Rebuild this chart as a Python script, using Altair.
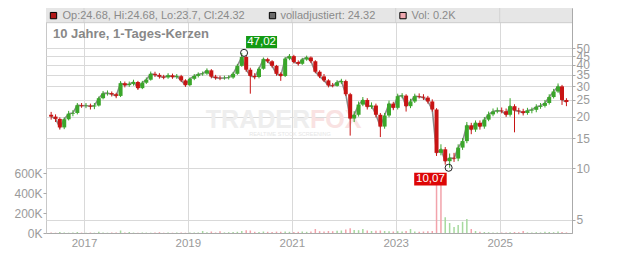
import altair as alt
import pandas as pd

FONT = "Liberation Sans"
RED = "#c81414"
GREEN = "#3aa62a"
VOL_RED = "#f2a3ab"
VOL_GREEN = "#a6d99e"

# monthly candles, May 2016 .. Apr 2026
first_open = 20.5
close = [
    20.0, 19.4, 17.3, 19.3, 20.8, 21.0, 23.3, 23.1, 23.2, 22.9,
    23.2, 25.6, 27.3, 27.4, 27.0, 26.4, 31.3, 30.5, 31.0, 31.8,
    29.3, 31.5, 32.8, 35.5, 35.0, 34.2, 33.8, 34.8, 34.0, 34.4,
    32.5, 30.5, 33.2, 34.5, 35.3, 35.6, 37.2, 34.2, 33.6, 33.5,
    33.6, 33.8, 35.5, 39.5, 44.5, 37.5, 34.5, 34.0, 38.0, 43.2,
    42.0, 39.5, 35.5, 34.5, 43.5, 45.0, 41.6, 40.6, 43.0, 44.2,
    42.0, 36.5, 34.3, 32.5, 30.4, 30.2, 31.7, 32.2, 27.0, 19.5,
    20.5, 23.5, 25.0, 22.8, 23.2, 20.5, 17.5, 20.3, 23.8, 22.5,
    26.3, 26.5, 23.0, 24.5, 26.3, 26.1, 25.8, 24.5, 22.0, 12.3,
    12.9, 11.0, 11.5, 11.4, 13.2, 14.4, 17.8, 16.8, 18.4, 17.5,
    19.2, 20.6, 21.4, 21.7, 21.5, 20.5, 23.0, 21.7, 21.5, 21.0,
    21.7, 21.9, 22.8, 23.1, 24.0, 26.0, 28.0, 30.0, 25.0, 24.32,
]
high = [
    21.3, 20.6, 19.8, 19.8, 21.6, 21.8, 24.0, 24.0, 24.0, 23.8,
    24.0, 26.2, 28.2, 28.4, 28.0, 27.5, 32.2, 32.0, 32.0, 32.8,
    32.3, 32.3, 33.8, 36.6, 36.5, 35.8, 35.0, 35.8, 35.6, 35.4,
    35.0, 33.0, 33.8, 35.4, 36.2, 36.6, 38.2, 37.8, 35.0, 34.6,
    34.6, 34.8, 36.4, 40.5, 47.02, 45.5, 38.5, 35.8, 39.0, 44.2,
    44.0, 42.6, 40.0, 36.2, 44.5, 46.3, 45.8, 42.5, 44.0, 45.3,
    44.8, 42.6, 37.2, 35.4, 33.0, 31.4, 32.6, 33.2, 32.8, 27.5,
    21.5, 24.5, 26.0, 25.6, 24.2, 23.8, 21.0, 21.0, 24.8, 24.4,
    27.2, 27.4, 27.0, 25.4, 27.2, 27.3, 27.0, 26.4, 25.2, 22.4,
    13.8, 13.3, 12.2, 12.3, 13.8, 15.0, 18.6, 18.4, 19.0, 19.0,
    19.9, 21.4, 22.3, 22.6, 22.6, 22.3, 25.6, 23.6, 22.5, 22.2,
    22.5, 22.6, 23.6, 24.0, 25.0, 27.0, 29.0, 31.2, 30.6, 25.6,
]
low = [
    19.2, 18.6, 16.8, 16.9, 19.0, 20.1, 20.6, 22.5, 22.4, 22.0,
    22.1, 22.9, 25.2, 26.5, 26.2, 25.6, 26.0, 29.6, 29.8, 30.3,
    28.6, 28.9, 31.0, 32.4, 34.0, 33.3, 33.0, 33.2, 33.2, 33.2,
    31.8, 29.8, 30.0, 32.6, 33.8, 34.6, 35.0, 33.4, 32.8, 32.6,
    32.8, 32.9, 33.2, 35.0, 39.0, 36.5, 27.2, 33.0, 33.4, 37.5,
    41.0, 38.6, 34.6, 32.3, 34.0, 42.6, 40.8, 39.6, 40.0, 42.3,
    41.0, 35.8, 33.5, 31.8, 29.6, 29.6, 29.9, 31.0, 26.4, 15.5,
    18.6, 20.0, 23.0, 22.0, 22.2, 19.8, 15.2, 17.0, 19.8, 21.8,
    22.0, 25.6, 21.4, 22.4, 24.0, 25.5, 25.0, 23.8, 21.4, 11.8,
    11.9, 10.5, 10.07, 10.9, 11.0, 12.8, 14.0, 15.8, 16.3, 16.8,
    17.0, 18.8, 20.1, 20.9, 20.9, 19.9, 20.0, 16.2, 20.6, 20.3,
    20.5, 20.9, 21.2, 22.2, 22.6, 23.5, 25.5, 27.5, 23.4, 23.0,
]
vol_k = [
    5, 3, 10, 4, 3, 5, 10, 4, 3, 5,
    3, 12, 4, 3, 5, 6, 25, 5, 10, 4,
    3, 5, 4, 3, 5, 8, 3, 4, 3, 5,
    4, 3, 4, 5, 6, 20, 8, 15, 5, 18,
    6, 8, 10, 12, 20, 28, 25, 12, 10, 15,
    12, 10, 14, 12, 15, 12, 10, 12, 14, 12,
    15, 40, 18, 15, 20, 18, 22, 25, 35, 47,
    30, 28, 40, 25, 20, 22, 25, 20, 18, 15,
    18, 15, 20, 40, 15, 12, 15, 18, 20, 560,
    520, 157, 100, 60, 80, 112, 140, 40, 20, 12,
    10, 8, 6, 5, 5, 6, 8, 10, 8, 20,
    6, 5, 8, 6, 12, 10, 8, 15, 10, 6,
]
# volume colour per month: 1 = green (up), 0 = red (down)
vol_up = [
    0, 0, 1, 1, 1, 1, 1, 0, 1, 0,
    1, 1, 1, 1, 0, 0, 1, 0, 1, 1,
    0, 1, 1, 1, 0, 0, 0, 1, 0, 1,
    0, 0, 1, 1, 1, 1, 1, 0, 0, 0,
    1, 1, 1, 1, 1, 0, 0, 0, 1, 1,
    0, 0, 0, 0, 1, 1, 0, 0, 1, 1,
    0, 0, 0, 0, 0, 0, 1, 1, 0, 0,
    1, 1, 1, 0, 1, 0, 0, 1, 1, 0,
    1, 1, 0, 1, 1, 0, 0, 0, 0, 0,
    0, 1, 1, 1, 1, 1, 1, 0, 1, 0,
    1, 1, 1, 1, 0, 0, 1, 0, 0, 0,
    1, 1, 1, 1, 1, 1, 1, 1, 0, 0,
]
open_ = [first_open] + close[:-1]

label_years = [2017, 2019, 2021, 2023, 2025]
price_ticks = [5, 10, 15, 20, 25, 30, 35, 40, 45, 50]
vol_ticks = [0, 200000, 400000, 600000]

ann_dates = ["2020-01-31", "2024-01-08"]
ann_prices = [47.02, 10.07]
ann_labels = ["47,02", "10,07"]

header_ohlc = "Op:24.68, Hi:24.68, Lo:23.7, Cl:24.32"
header_adj = "volladjustiert: 24.32"
header_vol = "Vol: 0.2K"
title_text = "10 Jahre, 1-Tages-Kerzen"

dates = pd.date_range("2016-05-01", periods=len(close), freq="MS") + pd.Timedelta(days=14)
df = pd.DataFrame({
    "date": dates, "open": open_, "high": high, "low": low,
    "close": close, "vol": [v * 1000 for v in vol_k], "vup": vol_up,
})
years_df = pd.DataFrame({"date": [pd.Timestamp(year=y, month=1, day=1) for y in label_years]})
ann = pd.DataFrame({"date": ann_dates, "price": ann_prices, "label": ann_labels})
one = pd.DataFrame({"a": [0]})

W, H = 526, 225
BAND_H = 14.7


def X(field="date"):
    return alt.X(
        f"{field}:T",
        scale=alt.Scale(domain=[alt.DateTime(year=2016, month=5, date=14),
                                alt.DateTime(year=2026, month=4, date=19)]),
        axis=alt.Axis(values=[alt.DateTime(year=y, month=1, date=1) for y in label_years],
                      format="%Y", title=None, grid=True, gridColor="#d9d9d9",
                      ticks=False, tickSize=0, labelPadding=4, labelFontSize=11.5,
                      labelColor="#9a9a9a", labelFont=FONT, domainColor="#aaaaaa",
                      labelFlush=False),
    )


def YP(field):
    return alt.Y(
        f"{field}:Q",
        scale=alt.Scale(type="log", domain=[4.2, 85.8], nice=False),
        axis=alt.Axis(orient="right", values=price_ticks, title=None, grid=True,
                      gridColor="#d9d9d9", tickSize=3, tickColor="#aaaaaa",
                      labelPadding=1, labelFontSize=12, labelColor="#9a9a9a",
                      labelFont=FONT, domainColor="#aaaaaa", labelFlush=False,
                      labelOverlap=False),
    )


updown = "datum.close >= datum.open"

band = alt.Chart(one).mark_rect(color="#e6e6e6").encode(
    x=alt.value(0), x2=alt.value(W), y=alt.value(0), y2=alt.value(BAND_H))
band_grid = alt.Chart(years_df).mark_rule(color="#d4d4d4").encode(
    x=X("date"), y=alt.value(0), y2=alt.value(BAND_H))
band_line = alt.Chart(one).mark_rule(color="#cccccc").encode(
    x=alt.value(0), x2=alt.value(W), y=alt.value(BAND_H))

wm1 = alt.Chart(one).mark_text(text="TRADER", font=FONT, fontSize=25, fontWeight="bold",
                               color="#eeeeee", align="right", baseline="middle").encode(
    x=alt.value(264), y=alt.value(112))
wm2 = alt.Chart(one).mark_text(text="FOX", font=FONT, fontSize=25, fontWeight="bold",
                               color="#f9e2e2", align="left", baseline="middle").encode(
    x=alt.value(264), y=alt.value(112))
wm3 = alt.Chart(one).mark_text(text="REALTIME STOCK SCREENING", font=FONT, fontSize=5.5,
                               color="#e6e6e6", align="center", baseline="middle").encode(
    x=alt.value(244), y=alt.value(126))

vol = alt.Chart(df).mark_bar(width=1.5, clip=True).encode(
    x=X("date"),
    y=alt.Y("vol:Q", scale=alt.Scale(domain=[0, 2250000], nice=False),
            axis=alt.Axis(orient="left", values=vol_ticks, title=None, grid=False,
                          labelExpr="(datum.value / 1000) + 'K'", tickSize=3,
                          tickColor="#aaaaaa", labelPadding=1, labelFontSize=12,
                          labelColor="#9a9a9a", labelFont=FONT, domain=False)),
    color=alt.condition("datum.vup == 1", alt.value(VOL_GREEN), alt.value(VOL_RED)),
)

adj_line = alt.Chart(df).mark_line(color="#8c8c8c", strokeWidth=1.6, clip=True).encode(
    x=X("date"), y=YP("close"))
wicks = alt.Chart(df).mark_rule(strokeWidth=1, clip=True).encode(
    x=X("date"), y=YP("low"), y2="high:Q",
    color=alt.condition(updown, alt.value(GREEN), alt.value(RED)))
bodies = alt.Chart(df).mark_bar(width=4.0, clip=True).encode(
    x=X("date"), y=YP("open"), y2="close:Q",
    color=alt.condition(updown, alt.value(GREEN), alt.value(RED)))

BOX = "M-1,-0.39L1,-0.39L1,0.39L-1,0.39Z"
ann_max = alt.Chart(ann).transform_filter("datum.price > 20")
ann_min = alt.Chart(ann).transform_filter("datum.price < 20")

max_box = ann_max.mark_point(shape=BOX, size=31 ** 2, filled=True, color="#139a13",
                             opacity=1, xOffset=17.5, yOffset=-10.8).encode(
    x=X("date"), y=YP("price"))
max_txt = ann_max.mark_text(color="white", font=FONT, fontSize=11.5, xOffset=17.5,
                            yOffset=-10.5, align="center", baseline="middle").encode(
    x=X("date"), y=YP("price"), text="label:N")
min_box = ann_min.mark_point(shape=BOX, size=32.5 ** 2, filled=True, color="#dd0606",
                             opacity=1, xOffset=-18.2, yOffset=11.3).encode(
    x=X("date"), y=YP("price"))
min_txt = ann_min.mark_text(color="white", font=FONT, fontSize=11.5, xOffset=-18.2,
                            yOffset=11.6, align="center", baseline="middle").encode(
    x=X("date"), y=YP("price"), text="label:N")
circles = alt.Chart(ann).mark_point(shape="circle", size=50, filled=False, color="#222222",
                                    strokeWidth=1, opacity=1).encode(
    x=X("date"), y=YP("price"))

price = alt.layer(adj_line, wicks, bodies, circles, max_box, max_txt, min_box, min_txt)

sw1 = alt.Chart(one).mark_square(size=40, fill="#b01818", stroke="#000000",
                                 strokeWidth=1, opacity=1).encode(x=alt.value(7.5), y=alt.value(7.6))
tx1 = alt.Chart(one).mark_text(text=header_ohlc, font=FONT, fontSize=11, color="#8a8a8a",
                               align="left", baseline="middle").encode(x=alt.value(16.5), y=alt.value(7.8))
sw2 = alt.Chart(one).mark_square(size=40, fill="#6a6a6a", stroke="#000000",
                                 strokeWidth=1, opacity=1).encode(x=alt.value(226.5), y=alt.value(7.6))
tx2 = alt.Chart(one).mark_text(text=header_adj, font=FONT, fontSize=11, color="#8a8a8a",
                               align="left", baseline="middle").encode(x=alt.value(234.5), y=alt.value(7.8))
sw3 = alt.Chart(one).mark_square(size=40, fill="#f0a8b0", stroke="#000000",
                                 strokeWidth=1, opacity=1).encode(x=alt.value(357), y=alt.value(7.6))
tx3 = alt.Chart(one).mark_text(text=header_vol, font=FONT, fontSize=11, color="#8a8a8a",
                               align="left", baseline="middle").encode(x=alt.value(365.5), y=alt.value(7.8))
ttl = alt.Chart(one).mark_text(text=title_text, font=FONT, fontSize=13, fontWeight="bold",
                               color="#888888", align="left", baseline="alphabetic").encode(
    x=alt.value(7), y=alt.value(30))

chart = alt.layer(
    band, band_grid, band_line, wm1, wm2, wm3, vol, price,
    sw1, tx1, sw2, tx2, sw3, tx3, ttl,
).resolve_scale(y="independent").properties(
    width=W, height=H,
    padding={"left": 46, "top": 8, "right": 60, "bottom": 20},
    autosize=alt.AutoSizeParams(type="none"),
    background="white",
).configure_view(stroke="#c8c8c8", strokeWidth=1)

chart.save("out.html", embed_options={"renderer": "svg", "actions": False})
